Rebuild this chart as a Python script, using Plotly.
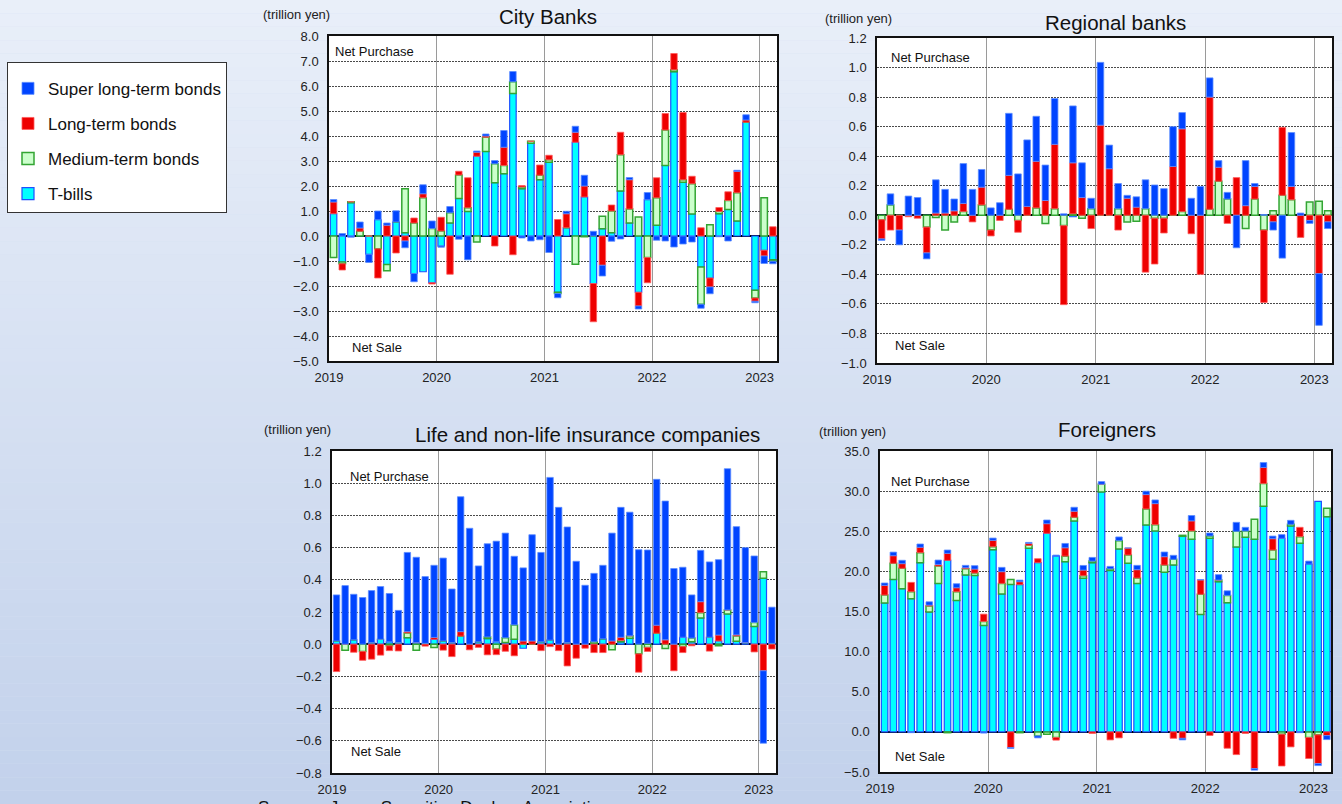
import plotly.graph_objects as go
import pandas as pd

# ---------------- data (trillion yen), Jan 2019 .. Feb 2023 ----------------
months = pd.date_range("2019-01-01", periods=50, freq="MS")
series_names = ["T-bills", "Medium-term bonds", "Long-term bonds", "Super long-term bonds"]
legend_rank = {"Super long-term bonds": 1, "Long-term bonds": 2, "Medium-term bonds": 3, "T-bills": 4}
panel_titles = ["City Banks", "Regional banks", "Life and non-life insurance companies", "Foreigners"]

city_tbills = [0.89, -1.04, 1.33, 0, -0.73, 0.65, -1.14, 0.56, 0.13, -1.50, -1.43, -1.87,
               -0.40, 0.52, 1.50, 0.98, 3.19, 3.38, 2.13, 2.49, 5.70, 1.89, 3.71, 2.25,
               2.95, -2.25, 0.33, 3.75, 1.56, -1.90, 0.29, 0.13, 1.80, 0.52, -2.25, 1.45,
               0.43, 2.82, 6.57, 2.15, 0.88, -1.24, -1.68, 0.89, 1.06, 0.60, 4.55, -2.17,
               -0.57, -0.95]
city_medium = [-0.86, -0.07, 0.04, 0.19, 0, -0.51, -0.25, 0, 1.76, 0.52, 1.53, 0.30,
               0.20, 0.41, 0.94, 0.15, -0.24, 0.57, 0.76, 0.33, 0.47, 0.07, 0.08, 0.18,
               0.10, -0.05, 0, -1.13, -0.03, 0, 0.50, 0.87, 1.45, 0.56, 0.76, -0.86,
               1.10, 1.42, 0.08, 0.10, 1.21, -1.49, 0.45, 0.09, 0.36, 1.13, 0, -0.31,
               1.53, -0.06]
city_long = [0.47, -0.25, 0, 0.13, 0, -1.17, 0.43, -0.68, -0.20, 0.20, 0.16, -0.05,
             0.55, -1.53, 0.15, 1.20, 0.16, 0.05, -0.40, 0.73, -0.75, 0.06, 0, 0.41,
             0.18, 0.66, 0.56, 0.40, 0.44, -1.53, -1.17, 0.24, 0.90, 1.17, -0.55, -1.01,
             0.80, 0.66, 0.65, 2.69, 0.30, 0.33, -0.36, 0.16, 0.35, 0.85, 0.09, -0.13,
             -0.23, 0.37]
city_super = [0.10, 0.10, -0.05, 0.24, -0.33, 0.35, 0.09, 0.45, -0.27, -0.33, 0.36, 0.30,
              -0.05, 0.25, -0.13, -0.95, 0.05, 0.08, 0.13, 0.67, 0.41, -0.08, -0.20, -0.15,
              -0.66, -0.17, 0.10, 0.24, 0.43, 0.19, -0.43, -0.21, -0.12, 0.09, -0.12, 0.29,
              -0.17, -0.20, -0.44, -0.32, -0.24, -0.16, -0.27, -0.03, -0.20, 0.05, 0.21, -0.06,
              -0.30, -0.10]

reg_tbills = [0, 0, 0, 0, 0, 0, 0, 0, 0, 0, 0, 0,
              0, 0, 0, 0, 0, 0, 0, 0, 0, -0.01, 0, 0,
              0, 0, 0, 0, 0, 0, 0, 0, 0, 0, 0, 0,
              0, 0, 0, 0, 0, 0, 0, 0, 0, 0, 0, 0,
              0, 0]
reg_medium = [-0.03, 0.07, 0, 0, 0, -0.08, -0.015, -0.10, -0.045, 0.025, 0, 0.07,
              -0.10, 0, 0.04, -0.035, 0, 0.05, -0.055, 0.045, -0.07, 0.01, -0.02, 0.045,
              0, 0, 0.045, -0.045, -0.04, 0.045, -0.02, -0.02, 0, 0.025, 0, 0,
              0.04, 0.23, 0.11, 0, -0.09, 0.11, -0.10, 0.03, 0.135, 0.105, 0, 0.09,
              0.095, 0.03]
reg_long = [-0.13, -0.10, -0.10, -0.01, -0.02, -0.175, 0.015, 0.015, 0.03, 0.055, -0.045, 0.12,
            -0.04, -0.035, 0.23, -0.08, 0.06, 0.315, 0.10, 0.435, -0.535, 0.345, 0.12, -0.09,
            0.61, 0.315, -0.10, 0.115, 0.055, -0.385, -0.31, -0.10, 0.33, 0.56, -0.125, -0.40,
            0.76, 0.095, -0.055, 0.255, 0.065, 0.085, -0.49, -0.045, 0.46, 0.09, -0.15, -0.035,
            -0.395, -0.045]
reg_super = [-0.01, 0.075, -0.10, 0.13, 0.12, -0.04, 0.225, 0.16, 0.08, 0.27, 0.175, 0.12,
             0.05, 0.085, 0.42, 0.28, 0.45, 0.305, 0.24, 0.31, 0.01, 0.385, 0.235, 0.07,
             0.425, 0.16, 0.17, 0.02, 0.07, 0.195, 0.205, 0.18, 0.27, 0.11, 0.115, 0.195,
             0.13, 0.045, 0.045, -0.22, 0.305, 0.02, 0.005, -0.055, -0.29, 0.365, 0.015, -0.02,
             -0.35, -0.045]

ins_tbills = [0.02, 0, 0.027, 0, 0.01, 0.03, 0.015, 0.01, 0.04, 0.01, 0.005, 0.03,
              0.02, 0.01, 0.05, 0, 0.015, 0.035, 0.015, 0.01, 0.03, -0.025, 0, 0.015,
              0.025, 0, 0.01, 0, 0, 0.005, 0.033, 0, 0.015, 0.037, 0, 0.006,
              0.068, 0, 0, 0.043, 0.015, 0.163, 0.043, 0.02, 0.188, 0.018, 0.01, 0.11,
              0.41, 0.005]
ins_medium = [0, -0.037, 0, -0.045, 0, 0, -0.01, 0, 0.03, -0.037, 0, -0.02,
              0, 0, 0, 0, 0, 0.01, -0.03, 0.03, 0.09, 0, 0, 0,
              0, 0, 0, 0, 0, 0.01, 0, -0.035, 0.008, 0.015, -0.06, -0.02,
              0, -0.027, 0, -0.015, 0.023, 0.033, 0, -0.01, 0.025, 0.033, 0, 0.025,
              0.04, 0]
ins_long = [-0.17, 0, -0.05, -0.055, -0.093, -0.068, -0.03, -0.042, 0.008, 0, -0.012, 0.012,
            -0.037, -0.077, 0.028, -0.035, -0.02, -0.066, -0.035, -0.044, -0.072, 0.02, 0.02, -0.04,
            -0.015, -0.04, -0.135, -0.087, -0.025, -0.052, -0.052, 0.02, 0.02, 0, -0.114, -0.025,
            0.05, 0.027, -0.165, -0.037, -0.01, 0.068, -0.043, 0.037, 0, 0.007, 0, -0.048,
            -0.165, -0.03]
ins_super = [0.286, 0.364, 0.283, 0.29, 0.323, 0.328, 0.30, 0.20, 0.492, 0.53, 0.415, 0.448,
             0.515, 0.333, 0.838, 0.72, 0.471, 0.579, 0.625, 0.65, 0.426, 0.454, 0.66, 0.555,
             1.011, 0.85, 0.718, 0.515, 0.366, 0.425, 0.457, 0.67, 0.807, 0.768, 0.587, 0.579,
             0.906, 0.862, 0.47, 0.435, 0.268, 0.319, 0.468, 0.468, 0.877, 0.672, 0.59, 0.413,
             -0.45, 0.225]

for_tbills = [16.05, 19.0, 17.84, 16.6, 21.08, 14.93, 18.5, 21.37, 16.38, 19.54, 19.5, 13.26,
              22.7, 17.17, 18.38, 18.34, 22.87, 21.08, 24.74, 21.91, 21.2, 26.28, 19.13, 21.08,
              29.9, 20.12, 22.79, 21.0, 18.5, 25.78, 25.03, 19.88, 20.79, 24.37, 24.0, 14.64,
              24.12, 18.71, 16.09, 23.04, 24.24, 24.0, 28.11, 21.5, 24.12, 25.66, 23.5, 20.91,
              28.73, 26.82]
for_medium = [1.0, 2.0, 2.54, 0.87, 1.25, 0.75, 2.16, -0.1, 1.08, 0.79, 0.29, 0.5,
              0.37, 1.33, 0.62, -0.1, 0.37, -0.5, -0.3, -0.7, 0.7, 0.46, 0.33, 0.2,
              0.96, 0.2, 1.04, 1.04, 0.67, 2.0, 0.79, 0.91, 0.71, 0.12, 1.04, 2.5,
              0.29, 0.21, 0.91, 1.95, 0.79, 2.5, 2.83, 1.16, -0.3, 0.2, 0.83, -0.7,
              -0.37, 1.04]
for_long = [1.2, 0.95, 0.58, 1.16, 0.67, 0.12, 0.2, 0.87, 0.5, 0.12, 0.5, 0.91,
            0.79, 1.46, -1.95, 0.37, 0.25, 0.5, 1.2, -0.33, 1.04, 0.75, 0.7, -0.2,
            0, -1.0, -0.75, 0.87, 1.04, 1.79, 2.62, 1.04, -0.8, -0.8, 1.25, 1.79,
            -0.45, 0, -2.04, -2.83, -0.2, -4.57, 2.0, 1.41, -3.95, -1.87, 1.16, -2.62,
            -3.58, -0.46]
for_super = [0.3, 0.45, 0.42, -0.1, 0.41, 0.41, 0.55, 0.42, 0.5, 0.3, 0.42, -0.15,
             0.29, 0.54, -0.12, 0.2, 0.12, -0.25, 0.46, 0.12, 0.54, 0.5, 0.58, 0.46,
             0.33, 0.3, 0.46, 0, 0.54, 0.42, 0.46, 0.58, 0.5, -0.2, 0.67, 0.05,
             0.37, 0.67, 0.58, 1.12, 0.46, -0.2, 0.62, 0.33, 0.46, 0.5, -0.1, 0.37,
             -0.25, -0.5]

# ---------------- layout helpers ----------------
W, H = 1342, 804
def fx(x):
    return x / W
def fy(y):
    return 1 - y / H

FONT = "Arial"
styles = {
    "T-bills": dict(color="#00ffff", line=dict(color="#1f4fff", width=1.2)),
    "Medium-term bonds": dict(color="#ccffcc", line=dict(color="#33a533", width=1.5)),
    "Long-term bonds": dict(color="#ee0000", line=dict(color="#ff5a5a", width=0.8)),
    "Super long-term bonds": dict(color="#0044ff", line=dict(color="#5c8dff", width=0.8)),
}

panels = [
    dict(data=[city_tbills, city_medium, city_long, city_super], xd=(329, 777), yd=(36, 361),
         yr=(-5, 8), dt=1.0, title_xy=(548, 16), unit_xy=(296, 15), np_xy=(333, 51), ns_xy=(350, 347)),
    dict(data=[reg_tbills, reg_medium, reg_long, reg_super], xd=(877, 1332), yd=(38, 363),
         yr=(-1.0, 1.2), dt=0.2, title_xy=(1115, 22), unit_xy=(858, 19), np_xy=(889, 57), ns_xy=(893, 345)),
    dict(data=[ins_tbills, ins_medium, ins_long, ins_super], xd=(332, 776), yd=(451, 773),
         yr=(-0.8, 1.2), dt=0.2, title_xy=(587, 435), unit_xy=(297, 430), np_xy=(348, 476), ns_xy=(349, 751)),
    dict(data=[for_tbills, for_medium, for_long, for_super], xd=(880, 1331), yd=(451, 772),
         yr=(-5, 35), dt=5.0, title_xy=(1107, 430), unit_xy=(852, 431), np_xy=(889, 481), ns_xy=(893, 756)),
]

fig = go.Figure()
layout = dict()
annotations = []
shapes = []

# background gradient
n_strips = 60
top_rgb = (233, 239, 249)
bot_rgb = (194, 209, 235)
for k in range(n_strips):
    t = (k + 0.5) / n_strips
    c = tuple(int(round(top_rgb[j] + (bot_rgb[j] - top_rgb[j]) * t)) for j in range(3))
    shapes.append(dict(type="rect", xref="paper", yref="paper", x0=0, x1=1,
                       y0=1 - k / n_strips, y1=1 - (k + 1) / n_strips,
                       fillcolor="rgb(%d,%d,%d)" % c, line=dict(width=0), layer="below"))

bar_width_ms = 22 * 24 * 3600 * 1000

for p_i, p in enumerate(panels):
    k = p_i + 1
    xa = "x" if k == 1 else "x%d" % k
    ya = "y" if k == 1 else "y%d" % k
    for name, vals in zip(series_names, p["data"]):
        st = styles[name]
        fig.add_trace(go.Bar(
            x=months, y=vals, name=name, xaxis=xa, yaxis=ya,
            xperiod="M1", xperiodalignment="middle", width=bar_width_ms,
            marker=dict(color=st["color"], line=st["line"]),
            legendgroup=name, legendrank=legend_rank[name], showlegend=(p_i == 0),
        ))
    xkey = "xaxis" if k == 1 else "xaxis%d" % k
    ykey = "yaxis" if k == 1 else "yaxis%d" % k
    layout[xkey] = dict(
        domain=[fx(p["xd"][0]), fx(p["xd"][1])], anchor=ya, type="date", automargin=False,
        range=["2019-01-01", "2023-03-01"], dtick="M12", tick0="2019-01-01", tickformat="%Y",
        showgrid=True, gridcolor="#9a9a9a", gridwidth=1.3,
        showline=True, mirror=True, linecolor="#111", linewidth=1.5,
        ticks="", ticklabelstandoff=4, tickfont=dict(family=FONT, size=13, color="#222"), fixedrange=True,
    )
    layout[ykey] = dict(
        domain=[fy(p["yd"][1]), fy(p["yd"][0])], anchor=xa, automargin=False,
        range=list(p["yr"]), dtick=p["dt"], tick0=0, tickformat=".1f",
        showgrid=True, gridcolor="#4a4a4a", gridwidth=1, griddash="2px,1px",
        zeroline=True, zerolinecolor="#000", zerolinewidth=1.5,
        showline=True, mirror=True, linecolor="#111", linewidth=1.5,
        ticks="", ticklabelstandoff=6, tickfont=dict(family=FONT, size=13, color="#222"),
        fixedrange=True,
    )
    # white plot background under gridlines
    shapes.append(dict(type="rect", xref=xa + " domain", yref=ya + " domain", x0=0, x1=1, y0=0, y1=1,
                       fillcolor="white", line=dict(width=0), layer="below"))
    tx, ty = p["title_xy"]
    annotations.append(dict(text=panel_titles[p_i], x=fx(tx), y=fy(ty), xref="paper", yref="paper",
                            xanchor="center", yanchor="middle", showarrow=False,
                            font=dict(family=FONT, size=20.5, color="#111")))
    ux, uy = p["unit_xy"]
    annotations.append(dict(text="(trillion yen)", x=fx(ux), y=fy(uy), xref="paper", yref="paper",
                            xanchor="center", yanchor="middle", showarrow=False,
                            font=dict(family=FONT, size=13, color="#222")))
    nx, ny = p["np_xy"]
    annotations.append(dict(text="Net Purchase", x=fx(nx), y=fy(ny), xref="paper", yref="paper",
                            xanchor="left", yanchor="middle", showarrow=False,
                            font=dict(family=FONT, size=13, color="#111")))
    sx, sy = p["ns_xy"]
    annotations.append(dict(text="Net Sale", x=fx(sx), y=fy(sy), xref="paper", yref="paper",
                            xanchor="left", yanchor="middle", showarrow=False,
                            font=dict(family=FONT, size=13, color="#111")))

annotations.append(dict(text="Sources: Japan Securities Dealers Association.", x=fx(256), y=fy(796),
                        xref="paper", yref="paper", xanchor="left", yanchor="top", showarrow=False,
                        font=dict(family=FONT, size=17, color="#111")))

fig.update_layout(
    **layout,
    width=W, height=H,
    margin=dict(l=0, r=0, t=0, b=0, pad=0, autoexpand=False),
    barmode="relative",
    paper_bgcolor="rgb(214,224,242)",
    plot_bgcolor="white",
    shapes=shapes,
    annotations=annotations,
    legend=dict(x=fx(7), y=fy(62), xanchor="left", yanchor="top",
                traceorder="grouped", tracegroupgap=10,
                title=dict(text=" ", font=dict(size=6)),
                bgcolor="white", bordercolor="#333", borderwidth=1,
                font=dict(family=FONT, size=17, color="#111"),
                itemclick=False, itemdoubleclick=False),
    showlegend=True,
)

fig.write_html("out.html", config={"responsive": False, "displayModeBar": False},
               post_script="document.body.style.margin='0';document.body.style.padding='0';"
                           "document.body.style.overflow='hidden';"
                           "document.documentElement.style.overflow='hidden';")
